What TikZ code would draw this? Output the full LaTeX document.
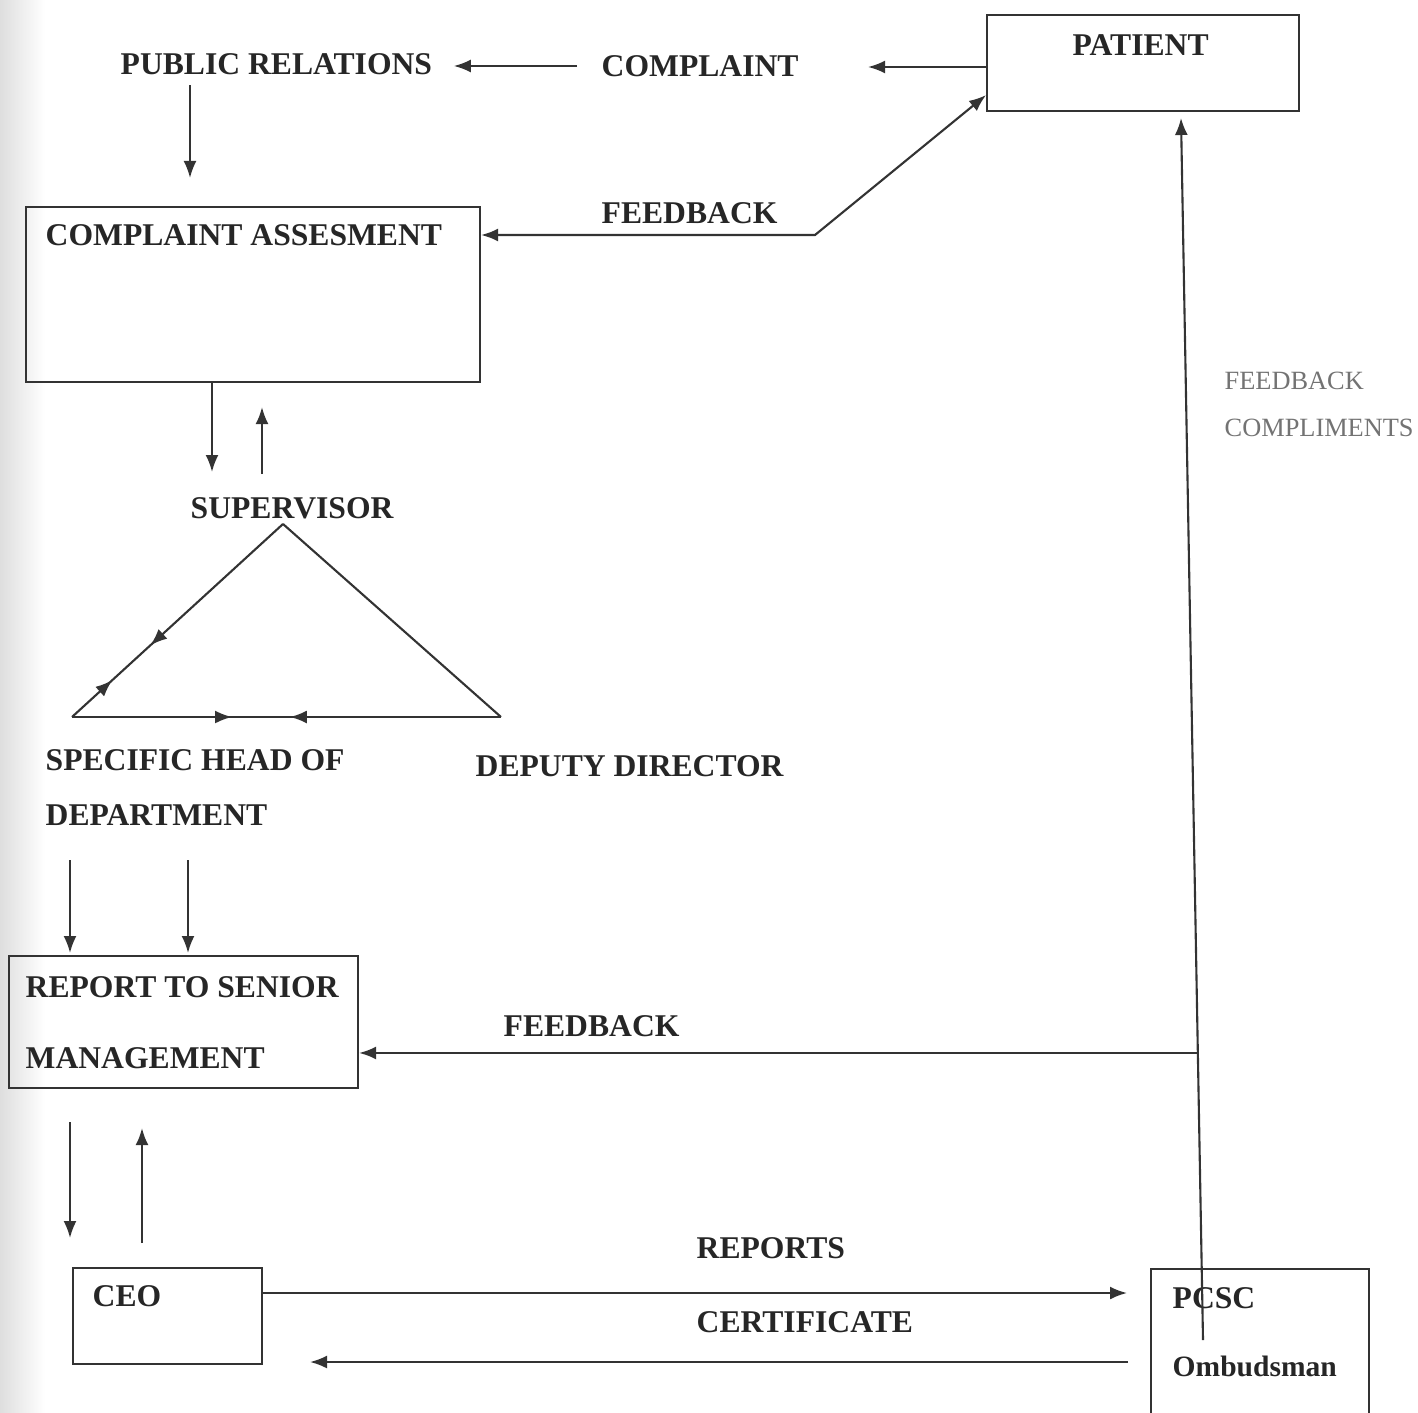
\documentclass[tikz,border=0pt]{standalone}
\usepackage{fontspec}
\setmainfont{Liberation Serif}
\usetikzlibrary{calc,arrows.meta,decorations.markings}
\tikzset{
	ln/.style={draw=black!80, line width=0.6pt},
	arr/.style={ln, -{Latex[length=1.7mm,width=1.3mm]}},
	box/.style={ln, rectangle, inner sep=0pt, anchor=north west},
	lbl/.style={font=\bfseries\fontsize{9}{11}\selectfont, text=black!85, inner sep=0pt, anchor=west, align=left},
	thin lbl/.style={font=\fontsize{7.5}{13.3}\selectfont, text=black!55, inner sep=0pt, anchor=west, align=left}
}

\begin{document}
\begin{tikzpicture}
			%%%%% START %%%%%
			\clip (0,0) rectangle (14.18,-14.12);
			\shade[left color=black!13, right color=white] (0,0) rectangle (0.45,-14.12);
			
			% boxes
			\node[box, minimum width=3.12cm, minimum height=0.96cm] (patient) at (9.86,-0.14) {};
			\node[box, minimum width=4.54cm, minimum height=1.75cm] (assess) at (0.25,-2.06) {};
			\node[box, minimum width=3.49cm, minimum height=1.32cm] (report) at (0.08,-9.55) {};
			\node[box, minimum width=1.89cm, minimum height=0.96cm] (ceo) at (0.72,-12.67) {};
			\node[box, minimum width=2.18cm, minimum height=1.80cm] (pcsc) at (11.50,-12.68) {};
			
			% texts
			\node[lbl] (patientlbl) at (10.72,-0.45) {PATIENT};
			\node[lbl] (pubrel) at (1.20,-0.64) {PUBLIC RELATIONS};
			\node[lbl] (complaint) at (6.01,-0.66) {COMPLAINT};
			\node[lbl] (assesslbl) at (0.45,-2.35) {COMPLAINT ASSESMENT};
			\node[lbl] (fbtop) at (6.01,-2.13) {FEEDBACK};
			\node[lbl] (super) at (1.90,-5.08) {SUPERVISOR};
			\node[lbl, font=\bfseries\fontsize{9}{15.6}\selectfont] (spec) at (0.45,-7.875) {SPECIFIC HEAD OF\\DEPARTMENT};
			\node[lbl] (deputy) at (4.75,-7.66) {DEPUTY DIRECTOR};
			\node[lbl, font=\bfseries\fontsize{9}{20.1}\selectfont] (reportlbl) at (0.25,-10.225) {REPORT TO SENIOR\\MANAGEMENT};
			\node[lbl] (fbmid) at (5.03,-10.26) {FEEDBACK};
			\node[lbl] (ceolbl) at (0.92,-12.96) {CEO};
			\node[lbl] (reports) at (6.96,-12.48) {REPORTS};
			\node[lbl] (cert) at (6.96,-13.22) {CERTIFICATE};
			\node[lbl, font=\bfseries\fontsize{9}{19.3}\selectfont] (pcsclbl) at (11.72,-13.32) {PCSC\\{\fontsize{8.4}{19.3}\selectfont Ombudsman}};
			\node[thin lbl] (fbcomp) at (12.24,-4.045) {FEEDBACK\\COMPLIMENTS};
			
			% free ends
			\coordinate (cin) at (8.68,-0.67);
			\coordinate (prout) at (1.90,-1.78);
			\coordinate (fbbend) at (8.15,-2.35);
			\coordinate (svin) at (2.12,-4.72);
			\coordinate (svout) at (2.62,-4.74);
			\coordinate (apex) at (2.83,-5.24);
			\coordinate (tl) at (0.72,-7.17);
			\coordinate (tr) at (5.01,-7.17);
			\coordinate (rpin1) at (0.70,-9.53);
			\coordinate (rpin2) at (1.88,-9.53);
			\coordinate (cein) at (0.70,-12.38);
			\coordinate (ceout) at (1.42,-12.43);
			\coordinate (repin) at (11.27,-12.93);
			\coordinate (certin) at (3.10,-13.62);
			\coordinate (pctop) at (12.03,-13.40);
			\coordinate (ptin) at (11.81,-1.18);
			\coordinate (fbjoin) at ($(pctop)!0.2349!(ptin)$);
			
			% top row
			\draw[arr] (patient.west |- cin) -- (cin);
			\draw[arr, shorten <=0.24cm, shorten >=0.21cm] (complaint.west) -- (complaint.west -| pubrel.east);
			\draw[arr, shorten <=0.1cm] (pubrel.south -| prout) -- (prout);
			\draw[ln, {Latex[length=1.7mm,width=1.3mm]}-{Latex[length=1.7mm,width=1.3mm]}] ([yshift=0.17cm]patient.south west) -- (fbbend) -- (fbbend -| assess.east);
			
			% supervisor
			\draw[arr] (assess.south -| svin) -- (svin);
			\draw[arr, shorten >=0.24cm] (svout) -- (assess.south -| svout);
			
			% triangle
			\draw[ln, postaction={decorate, decoration={markings,
				mark=at position 0.63 with {\arrow{Latex[length=1.7mm,width=1.3mm]}},
				mark=at position 0.81 with {\arrowreversed{Latex[length=1.7mm,width=1.3mm]}}}}] (apex) -- (tl);
			\draw[ln, postaction={decorate, decoration={markings,
				mark=at position 0.373 with {\arrow{Latex[length=1.7mm,width=1.3mm]}},
				mark=at position 0.508 with {\arrowreversed{Latex[length=1.7mm,width=1.3mm]}}}}] (tl) -- (tr);
			\draw[ln] (tr) -- (apex);
			
			% to senior management
			\draw[arr, shorten <=0.34cm] (spec.south -| rpin1) -- (rpin1);
			\draw[arr, shorten <=0.34cm] (spec.south -| rpin2) -- (rpin2);
			\draw[arr] (fbjoin) -- (fbjoin -| report.east);
			
			% ceo
			\draw[arr, shorten <=0.33cm] (report.south -| cein) -- (cein);
			\draw[arr, shorten >=0.39cm] (ceout) -- (report.south -| ceout);
			\draw[arr] (ceo.east |- repin) -- (repin);
			\draw[arr, shorten <=0.22cm] (pcsc.west |- certin) -- (certin);
			
			% back to patient
			\draw[arr] (pctop) -- (ptin);
			%%%%% END %%%%%
		\end{tikzpicture}
\end{document}
